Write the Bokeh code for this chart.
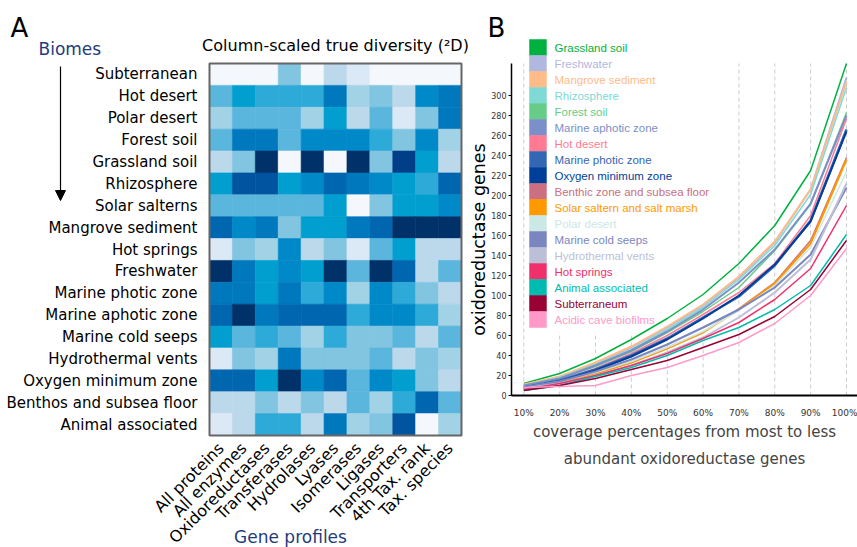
import math
from bokeh.plotting import figure
from bokeh.models import (ColumnDataSource, LinearColorMapper, FixedTicker, Range1d,
                          LinearAxis, Label, Arrow, NormalHead)
from bokeh.transform import transform
from bokeh.core.properties import value
from bokeh.embed import file_html
from bokeh.resources import INLINE

# ---------------- Panel A data ----------------
biomes = ["Subterranean", "Hot desert", "Polar desert", "Forest soil", "Grassland soil",
          "Rhizosphere", "Solar salterns", "Mangrove sediment", "Hot springs", "Freshwater",
          "Marine photic zone", "Marine aphotic zone", "Marine cold seeps",
          "Hydrothermal vents", "Oxygen minimum zone", "Benthos and subsea floor",
          "Animal associated"]
gene_profiles = ["All proteins", "All enzymes", "Oxidoreductases", "Transferases",
                 "Hydrolases", "Lyases", "Isomerases", "Ligases", "Transporters",
                 "4th Tax. rank", "Tax. species"]
# column-scaled diversity level (0 = lowest, 13 = highest)
subterranean = [0, 0, 0, 4, 0, 2, 1, 0, 0, 0, 0]
hot_desert = [5, 7, 6, 6, 6, 9, 3, 4, 2, 8, 9]
polar_desert = [3, 5, 5, 5, 3, 7, 2, 5, 1, 4, 9]
forest_soil = [5, 9, 9, 5, 8, 8, 8, 6, 4, 8, 3]
grassland_soil = [2, 4, 13, 0, 13, 0, 13, 4, 12, 7, 2]
rhizosphere = [7, 11, 11, 7, 8, 10, 9, 8, 7, 6, 10]
solar_salterns = [5, 5, 5, 5, 5, 7, 0, 4, 7, 7, 8]
mangrove_sediment = [10, 8, 9, 4, 7, 7, 9, 10, 13, 13, 13]
hot_springs = [1, 4, 3, 8, 2, 4, 1, 5, 7, 2, 2]
freshwater = [13, 9, 7, 8, 7, 13, 5, 13, 10, 2, 5]
marine_photic = [9, 9, 7, 9, 6, 8, 3, 8, 6, 4, 2]
marine_aphotic = [10, 13, 9, 10, 10, 10, 6, 8, 8, 6, 3]
marine_cold_seeps = [7, 5, 6, 5, 3, 6, 4, 4, 5, 2, 5]
hydrothermal_vents = [1, 4, 3, 9, 4, 4, 4, 5, 2, 4, 3]
oxygen_minimum = [10, 10, 7, 13, 8, 10, 5, 8, 7, 4, 2]
benthos_subsea = [2, 2, 4, 2, 4, 2, 5, 3, 6, 10, 5]
animal_associated = [1, 2, 6, 6, 2, 9, 3, 4, 11, 0, 3]

diversity_rows = [subterranean, hot_desert, polar_desert, forest_soil, grassland_soil,
                  rhizosphere, solar_salterns, mangrove_sediment, hot_springs, freshwater,
                  marine_photic, marine_aphotic, marine_cold_seeps, hydrothermal_vents,
                  oxygen_minimum, benthos_subsea, animal_associated]

blues = ["#f4f8fd", "#dbe9f6", "#bcd9ec", "#a2d2e6", "#82c5e1", "#5ab6dc", "#2daad7",
         "#009fcf", "#0089c9", "#0078bd", "#0066b0", "#0054a0", "#003f88", "#003168"]

# ---------------- Panel B data ----------------
coverage = ["10%", "20%", "30%", "40%", "50%", "60%", "70%", "80%", "90%", "100%"]
cov_b_grassland = [12, 22, 37, 56, 77, 101, 132, 170, 225, 332]
cov_b_freshwater = [10, 18, 32, 48, 68, 90, 118, 153, 206, 318]
cov_b_mangrove = [11, 19, 33, 49, 69, 91, 119, 154, 206, 314]
cov_b_rhizosphere = [10, 18, 31, 46, 66, 88, 116, 150, 201, 308]
cov_b_forest = [9, 17, 29, 44, 63, 84, 108, 145, 191, 283]
cov_b_aphotic = [10, 17, 30, 45, 64, 86, 113, 146, 192, 280]
cov_b_hot_desert = [8, 15, 27, 42, 60, 81, 103, 132, 180, 277]
cov_b_photic = [8, 15, 26, 40, 57, 78, 99, 130, 175, 266]
cov_b_omz = [7, 14, 25, 39, 56, 77, 100, 131, 174, 264]
cov_b_benthic = [6, 13, 22, 33, 48, 63, 87, 113, 155, 238]
cov_b_solar = [7, 13, 22, 33, 47, 63, 86, 112, 152, 236]
cov_b_polar = [8, 14, 23, 34, 48, 64, 85, 110, 148, 224]
cov_b_cold_seeps = [8, 14, 24, 36, 51, 68, 86, 108, 141, 208]
cov_b_hydrothermal = [7, 12, 20, 30, 43, 58, 78, 103, 136, 212]
cov_b_hot_springs = [6, 12, 20, 30, 42, 57, 73, 96, 127, 190]
cov_b_animal = [5, 10, 19, 28, 40, 55, 68, 86, 110, 161]
cov_b_subterraneum = [5, 10, 17, 26, 35, 48, 61, 79, 106, 155]
cov_b_acidic = [8, 9, 10, 20, 28, 40, 53, 72, 100, 147]

series_names = ["Grassland soil", "Freshwater", "Mangrove sediment", "Rhizosphere",
                "Forest soil", "Marine aphotic zone", "Hot desert", "Marine photic zone",
                "Oxygen minimum zone", "Benthic zone and subsea floor",
                "Solar saltern and salt marsh", "Polar desert", "Marine cold seeps",
                "Hydrothermal vents", "Hot springs", "Animal associated", "Subterraneum",
                "Acidic cave biofilms"]
series_values = [cov_b_grassland, cov_b_freshwater, cov_b_mangrove, cov_b_rhizosphere,
                 cov_b_forest, cov_b_aphotic, cov_b_hot_desert, cov_b_photic, cov_b_omz,
                 cov_b_benthic, cov_b_solar, cov_b_polar, cov_b_cold_seeps,
                 cov_b_hydrothermal, cov_b_hot_springs, cov_b_animal, cov_b_subterraneum,
                 cov_b_acidic]
series_colors = ["#00b140", "#b0b8e0", "#ffbb88", "#7fd9d4", "#66cc88", "#7b8fc8",
                 "#ff7b93", "#3366b3", "#003f99", "#cc6f80", "#ff9900", "#cce8e4",
                 "#7a86c0", "#bbbfd8", "#f0306a", "#00bbb0", "#990033", "#ff99c8"]
series_widths = [1.5, 2, 2, 1.5, 1.5, 2, 1.5, 2.5, 2, 1.5, 2, 1.5, 2, 2, 1.5, 1.5, 1.5, 1.5]

FONT = "DejaVu Sans"
TITLE_BLUE = "#1f3c7a"

# One canvas; panel B uses the default ranges, panel A the extra ranges "ax"/"ay".
p = figure(width=857, height=547, output_backend="svg", toolbar_location=None,
           x_axis_type=None, y_axis_type=None,
           x_range=Range1d(-135.95, 103.07), y_range=Range1d(-152, 395),
           min_border_left=0, min_border_right=0, min_border_top=0, min_border_bottom=0)
p.extra_x_ranges = {"ax": Range1d(-9.123, 28.286)}
p.extra_y_ranges = {"ay": Range1d(-5.118, 19.879)}
p.outline_line_color = None
p.background_fill_color = "white"

# ================= Panel A =================
nrow, ncol = len(biomes), len(gene_profiles)
xs, ys, vs = [], [], []
for r, vals in enumerate(diversity_rows):
    for c, v in enumerate(vals):
        xs.append(c + 0.5)
        ys.append(nrow - r - 0.5)
        vs.append(v)
src = ColumnDataSource(dict(x=xs, y=ys, v=vs))
mapper = LinearColorMapper(palette=blues, low=-0.5, high=len(blues) - 0.5)

p.rect(x="x", y="y", width=1, height=1, source=src, x_range_name="ax", y_range_name="ay",
       fill_color=transform("v", mapper), line_color=transform("v", mapper), line_width=0.6)
p.quad(left=[0], right=[ncol], bottom=[0], top=[nrow], fill_color=None,
       line_color="#666666", line_width=2, x_range_name="ax", y_range_name="ay")

ya = LinearAxis(x_range_name="ax", y_range_name="ay", fixed_location=0)
ya.ticker = FixedTicker(ticks=[nrow - i - 0.5 for i in range(nrow)])
ya.major_label_overrides = {nrow - i - 0.5: b for i, b in enumerate(biomes)}
ya.axis_line_color = None
ya.major_tick_line_color = None
ya.minor_tick_line_color = None
ya.major_label_standoff = 6
ya.major_label_text_font_size = "15px"
ya.major_label_text_font = FONT
ya.major_label_text_color = "black"
p.add_layout(ya, "left")

xa = LinearAxis(x_range_name="ax", y_range_name="ay", fixed_location=0)
xa.ticker = FixedTicker(ticks=[i + 0.5 for i in range(ncol)])
xa.major_label_overrides = {i + 0.5: g for i, g in enumerate(gene_profiles)}
xa.axis_line_color = None
xa.major_tick_line_color = None
xa.minor_tick_line_color = None
xa.major_label_orientation = math.pi / 4
xa.major_label_standoff = 4
xa.major_label_text_font_size = "16px"
xa.major_label_text_font = FONT
xa.major_label_text_color = "black"
p.add_layout(xa, "below")

p.add_layout(Label(x=ncol / 2, y=17.823, x_range_name="ax", y_range_name="ay",
                   text="Column-scaled true diversity (\u00b2D)", text_align="center",
                   text_baseline="middle", text_font=FONT, text_font_size="16px",
                   text_color="black"))
p.add_layout(Label(x=-8.687, y=18.645, x_range_name="ax", y_range_name="ay", text="A",
                   text_align="left", text_baseline="middle", text_font=FONT,
                   text_font_size="26px", text_color="black"))
p.add_layout(Label(x=-7.464, y=17.663, x_range_name="ax", y_range_name="ay", text="Biomes",
                   text_align="left", text_baseline="middle", text_font=FONT,
                   text_font_size="17px", text_color=TITLE_BLUE))
p.add_layout(Label(x=3.536, y=-4.616, x_range_name="ax", y_range_name="ay",
                   text="Gene profiles", text_align="center", text_baseline="middle",
                   text_font=FONT, text_font_size="17px", text_color=TITLE_BLUE))
p.add_layout(Arrow(end=NormalHead(size=10, fill_color="black", line_color="black"),
                   x_start=-6.504, y_start=16.863, x_end=-6.504, y_end=10.739,
                   x_range_name="ax", y_range_name="ay", line_width=1.2,
                   line_color="black"))

# ================= Panel B =================
xpos = [int(c.rstrip("%")) for c in coverage]
x_left, x_right, y_top = 6.57, 103.07, 332

p.segment(x0=xpos, y0=[0] * len(xpos), x1=xpos, y1=[y_top] * len(xpos),
          line_color="#cccccc", line_dash="4 3", line_width=1)
p.quad(left=[11.0], right=[63.7], top=[356], bottom=[63], fill_color="white",
       line_color=None)

for vals, col, lw in zip(series_values, series_colors, series_widths):
    p.line(xpos, vals, line_color=col, line_width=lw)

k = list(range(len(series_names)))
p.quad(left=[11.59] * len(k), right=[16.32] * len(k),
       top=[356 - 16 * i for i in k], bottom=[340 - 16 * i for i in k],
       fill_color=series_colors, line_color=series_colors, line_width=0.5)
p.text(x=[18.55] * len(k), y=[348 - 16 * i for i in k], text=series_names,
       text_color=series_colors, text_font=value("Liberation Sans"),
       text_font_size="11.5px", text_baseline="middle", text_align="left")

yb = LinearAxis(fixed_location=x_left, bounds=(0, y_top))
yb.ticker = FixedTicker(ticks=list(range(0, 301, 20)))
yb.axis_line_width = 1.5
yb.major_tick_out = 3
yb.major_tick_in = 0
yb.minor_tick_line_color = None
yb.major_label_standoff = 2
yb.major_label_text_font_size = "8px"
yb.major_label_text_font = FONT
yb.major_label_text_color = "#333333"
p.add_layout(yb, "left")
# y-axis title, centred where the reference places it
p.add_layout(Label(x=-2.36, y=156, text="oxidoreductase genes", angle=math.pi / 2,
                   text_align="center", text_baseline="middle", text_font=FONT,
                   text_font_size="17.5px", text_color="black"))

xb = LinearAxis(fixed_location=0, bounds=(x_left, x_right))
xb.ticker = FixedTicker(ticks=xpos)
xb.major_label_overrides = {x: c for x, c in zip(xpos, coverage)}
xb.axis_line_width = 2
xb.major_tick_line_color = None
xb.minor_tick_line_color = None
xb.major_label_standoff = 6
xb.major_label_text_font_size = "9px"
xb.major_label_text_font = FONT
xb.major_label_text_color = "#333333"
xb.axis_label = "coverage percentages from most to less\nabundant oxidoreductase genes"
xb.axis_label_text_font = FONT
xb.axis_label_text_font_size = "15px"
xb.axis_label_text_font_style = "normal"
xb.axis_label_text_line_height = 1.55
xb.axis_label_standoff = 2
p.add_layout(xb, "below")

p.add_layout(Label(x=-0.124, y=368, text="B", text_align="left", text_baseline="middle",
                   text_font=FONT, text_font_size="26px", text_color="black"))

open("out.html", "w").write(file_html(p, INLINE))
